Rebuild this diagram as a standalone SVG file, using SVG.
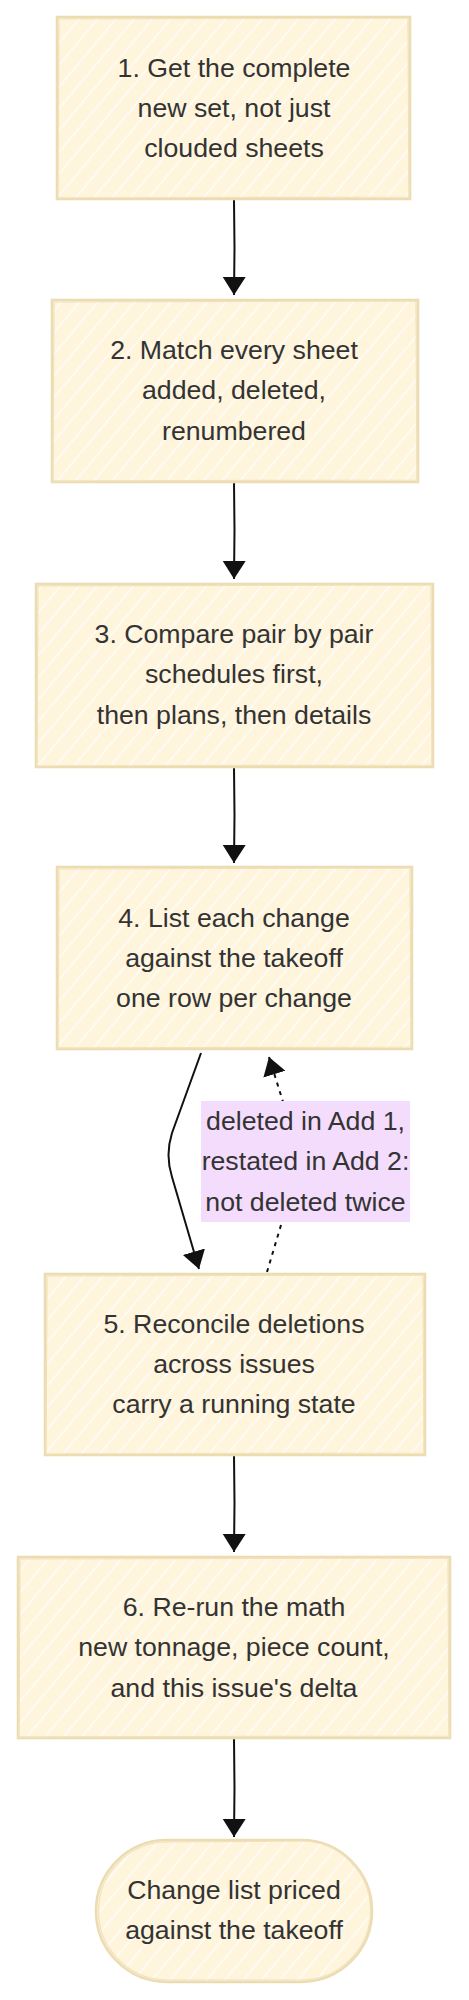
<svg xmlns="http://www.w3.org/2000/svg" width="469" height="2000" viewBox="0 0 469 2000">
  <defs>
    <pattern id="hatch" patternUnits="userSpaceOnUse" width="14" height="14" patternTransform="rotate(40)">
      <rect width="14" height="14" fill="#fff4dc"/>
      <line x1="3" y1="0" x2="3" y2="14" stroke="#ffffff" stroke-width="1.4" stroke-opacity="0.9"/>
    </pattern>
    <marker id="arrow" markerUnits="userSpaceOnUse" markerWidth="20" markerHeight="24" refX="18" refY="11.5" orient="auto" viewBox="0 0 20 24">
      <path d="M0,0 L18,11.5 L0,23 z" fill="#111111"/>
    </marker>
  </defs>
  <style>
    .node rect { fill: url(#hatch); stroke: #ecdcb2; stroke-width: 2.6; }
    .node .rough { fill: none; stroke: #f0e2bd; stroke-width: 1.2; }
    .label { font-family: "Liberation Sans", Arial, sans-serif; font-size: 26.7px; fill: #333333; text-anchor: middle; }
    .edge { fill: none; stroke: #111111; stroke-width: 2; }
    .dotted { stroke-dasharray: 4 5; }
    .edgeLabelBg { fill: #f3dcfc; }
  </style>
  <rect width="469" height="2000" fill="#ffffff"/>

  <g id="connectors">
    <path class="edge" d="M234,200 L234.5,248 L234,295" marker-end="url(#arrow)"/>
    <path class="edge" d="M234,482 L234.5,530 L234,579" marker-end="url(#arrow)"/>
    <path class="edge" d="M234,767 L234.5,815 L234,863" marker-end="url(#arrow)"/>
    <path class="edge" d="M201,1053 L172,1133 Q165,1155 172,1177 L199,1269" marker-end="url(#arrow)"/>
    <path class="edge dotted" d="M267,1272 L284,1215 Q288,1160 284,1105 L269,1057" marker-end="url(#arrow)"/>
    <path class="edge" d="M234,1455 L234.5,1503 L234,1552" marker-end="url(#arrow)"/>
    <path class="edge" d="M234,1738 L234.5,1788 L234,1837" marker-end="url(#arrow)"/>
  </g>

  <g id="edge-label-reconcile">
    <rect class="edgeLabelBg" x="201" y="1101" width="209" height="121"/>
    <text class="label" x="305.5" y="1130">deleted in Add 1,</text>
    <text class="label" x="305.5" y="1170">restated in Add 2:</text>
    <text class="label" x="305.5" y="1211">not deleted twice</text>
  </g>

  <g id="node-1" class="node">
    <rect x="57" y="17" width="353" height="182"/>
    <path class="rough" d="M59,19 L408,18 L409,197 L58,198 Z"/>
    <text class="label" x="234" y="77">1. Get the complete</text>
    <text class="label" x="234" y="117">new set, not just</text>
    <text class="label" x="234" y="157">clouded sheets</text>
  </g>

  <g id="node-2" class="node">
    <rect x="52" y="300" width="366" height="182"/>
    <path class="rough" d="M54,302 L416,301 L417,480 L53,481 Z"/>
    <text class="label" x="234" y="359">2. Match every sheet</text>
    <text class="label" x="234" y="399">added, deleted,</text>
    <text class="label" x="234" y="440">renumbered</text>
  </g>

  <g id="node-3" class="node">
    <rect x="36" y="584" width="397" height="183"/>
    <path class="rough" d="M38,586 L431,585 L432,765 L37,766 Z"/>
    <text class="label" x="234" y="643">3. Compare pair by pair</text>
    <text class="label" x="234" y="683">schedules first,</text>
    <text class="label" x="234" y="724">then plans, then details</text>
  </g>

  <g id="node-4" class="node">
    <rect x="57" y="867" width="355" height="182"/>
    <path class="rough" d="M59,869 L410,868 L411,1047 L58,1048 Z"/>
    <text class="label" x="234" y="927">4. List each change</text>
    <text class="label" x="234" y="967">against the takeoff</text>
    <text class="label" x="234" y="1007">one row per change</text>
  </g>

  <g id="node-5" class="node">
    <rect x="45" y="1274" width="380" height="181"/>
    <path class="rough" d="M47,1276 L423,1275 L424,1453 L46,1454 Z"/>
    <text class="label" x="234" y="1333">5. Reconcile deletions</text>
    <text class="label" x="234" y="1373">across issues</text>
    <text class="label" x="234" y="1413">carry a running state</text>
  </g>

  <g id="node-6" class="node">
    <rect x="18" y="1557" width="432" height="181"/>
    <path class="rough" d="M20,1559 L448,1558 L449,1736 L19,1737 Z"/>
    <text class="label" x="234" y="1616">6. Re-run the math</text>
    <text class="label" x="234" y="1656">new tonnage, piece count,</text>
    <text class="label" x="234" y="1697">and this issue's delta</text>
  </g>

  <g id="node-end" class="node">
    <rect x="96" y="1840" width="276" height="142" rx="71" ry="71"/>
    <path class="rough" d="M168,1842 L301,1841 A69,69 0 0 1 301,1980 L167,1980 A69,69 0 0 1 168,1842 Z"/>
    <text class="label" x="234" y="1899">Change list priced</text>
    <text class="label" x="234" y="1939">against the takeoff</text>
  </g>
</svg>
